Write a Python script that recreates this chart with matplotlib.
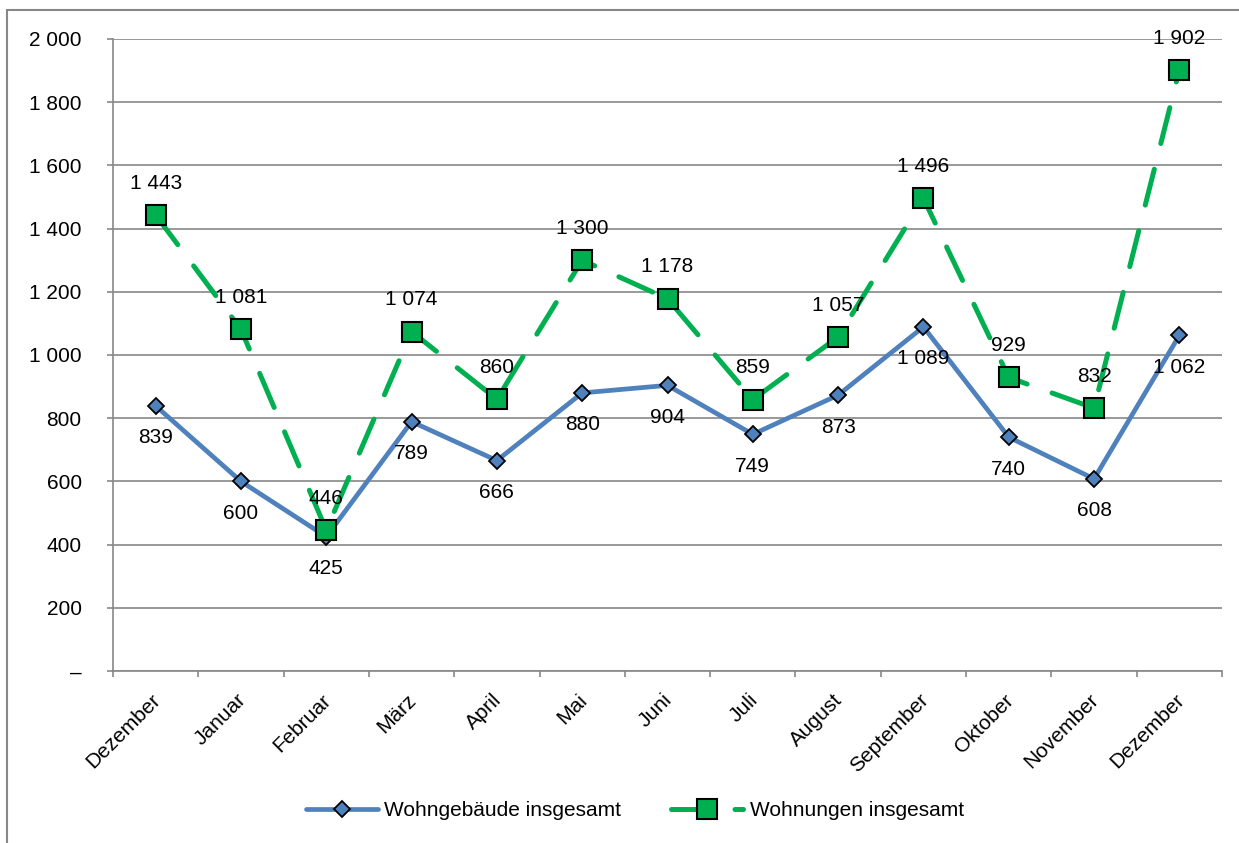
import matplotlib.pyplot as plt
import matplotlib.transforms as mtransforms
from matplotlib.patches import Rectangle
from matplotlib.ticker import FuncFormatter

plt.rcParams['font.family'] = ['Liberation Sans', 'DejaVu Sans']

monate = ["Dezember", "Januar", "Februar", "März", "April", "Mai", "Juni",
          "Juli", "August", "September", "Oktober", "November", "Dezember"]
wohngebaeude = [839, 600, 425, 789, 666, 880, 904, 749, 873, 1089, 740, 608, 1062]
wohnungen = [1443, 1081, 446, 1074, 860, 1300, 1178, 859, 1057, 1496, 929, 832, 1902]

blau = '#4F81BD'
gruen = '#00B050'
grau = '#878787'
fs = 15


def fmt(v, pos=None):
    v = int(round(v))
    if v == 0:
        return '–'
    return f"{v:,}".replace(",", " ")


fig = plt.figure(figsize=(12.39, 8.43), dpi=100)
ax = fig.add_axes([113 / 1239, 1 - 671 / 843, (1222 - 113) / 1239, (671 - 39) / 843])

x = list(range(len(monate)))

ax.plot(x, wohngebaeude, color=blau, lw=3.4, marker='D', ms=8,
        mfc=blau, mec='black', mew=1.3, label='Wohngebäude insgesamt',
        solid_capstyle='round', zorder=3)
ax.plot(x, wohnungen, color=gruen, lw=3.6, dashes=(7.4, 5.3),
        dash_capstyle='round', marker='s', ms=14, mfc=gruen, mec='black',
        mew=1.5, label='Wohnungen insgesamt', zorder=4)

for xi, v in zip(x, wohngebaeude):
    ax.annotate(fmt(v), (xi, v), xytext=(0, -23), textcoords='offset points',
                ha='center', va='center', fontsize=fs, zorder=5)
for xi, v in zip(x, wohnungen):
    ax.annotate(fmt(v), (xi, v), xytext=(0, 23), textcoords='offset points',
                ha='center', va='center', fontsize=fs, zorder=5)

ax.set_xlim(-0.5, len(monate) - 0.5)
ax.set_ylim(0, 2000)
ax.set_yticks(range(0, 2001, 200))
ax.yaxis.set_major_formatter(FuncFormatter(fmt))
ax.grid(axis='y', color=grau, lw=1.2)
ax.set_axisbelow(True)

ax.set_xticks(x)
ax.set_xticklabels(monate)
ax.set_xticks([i - 0.5 for i in range(len(monate) + 1)], minor=True)
ax.tick_params(axis='x', which='major', length=0, pad=14, labelsize=fs)
ax.tick_params(axis='x', which='minor', length=4.5, width=1.2, color=grau)
ax.tick_params(axis='y', length=4.5, width=1.2, color=grau, pad=18, labelsize=fs)
shift = mtransforms.ScaledTranslation(-5 / 100, 0, fig.dpi_scale_trans)
for lab in ax.get_xticklabels():
    lab.set_rotation(45)
    lab.set_ha('right')
    lab.set_va('top')
    lab.set_rotation_mode('anchor')
    lab.set_transform(lab.get_transform() + shift)

for s in ['top', 'right']:
    ax.spines[s].set_visible(False)
for s in ['left', 'bottom']:
    ax.spines[s].set_color(grau)
    ax.spines[s].set_linewidth(1.2)

ax.legend(loc='center', bbox_to_anchor=(635 / 1239, 1 - 811 / 843),
          bbox_transform=fig.transFigure, ncol=2, frameon=False,
          fontsize=fs, handlelength=3.45, handletextpad=0.33,
          columnspacing=2.4)

fig.patches.append(Rectangle((7 / 1239, -0.1), 1.2, 1.1 - 10 / 843,
                             transform=fig.transFigure, fill=False,
                             edgecolor=grau, lw=1.5))

fig.savefig('out.png', dpi=100)
